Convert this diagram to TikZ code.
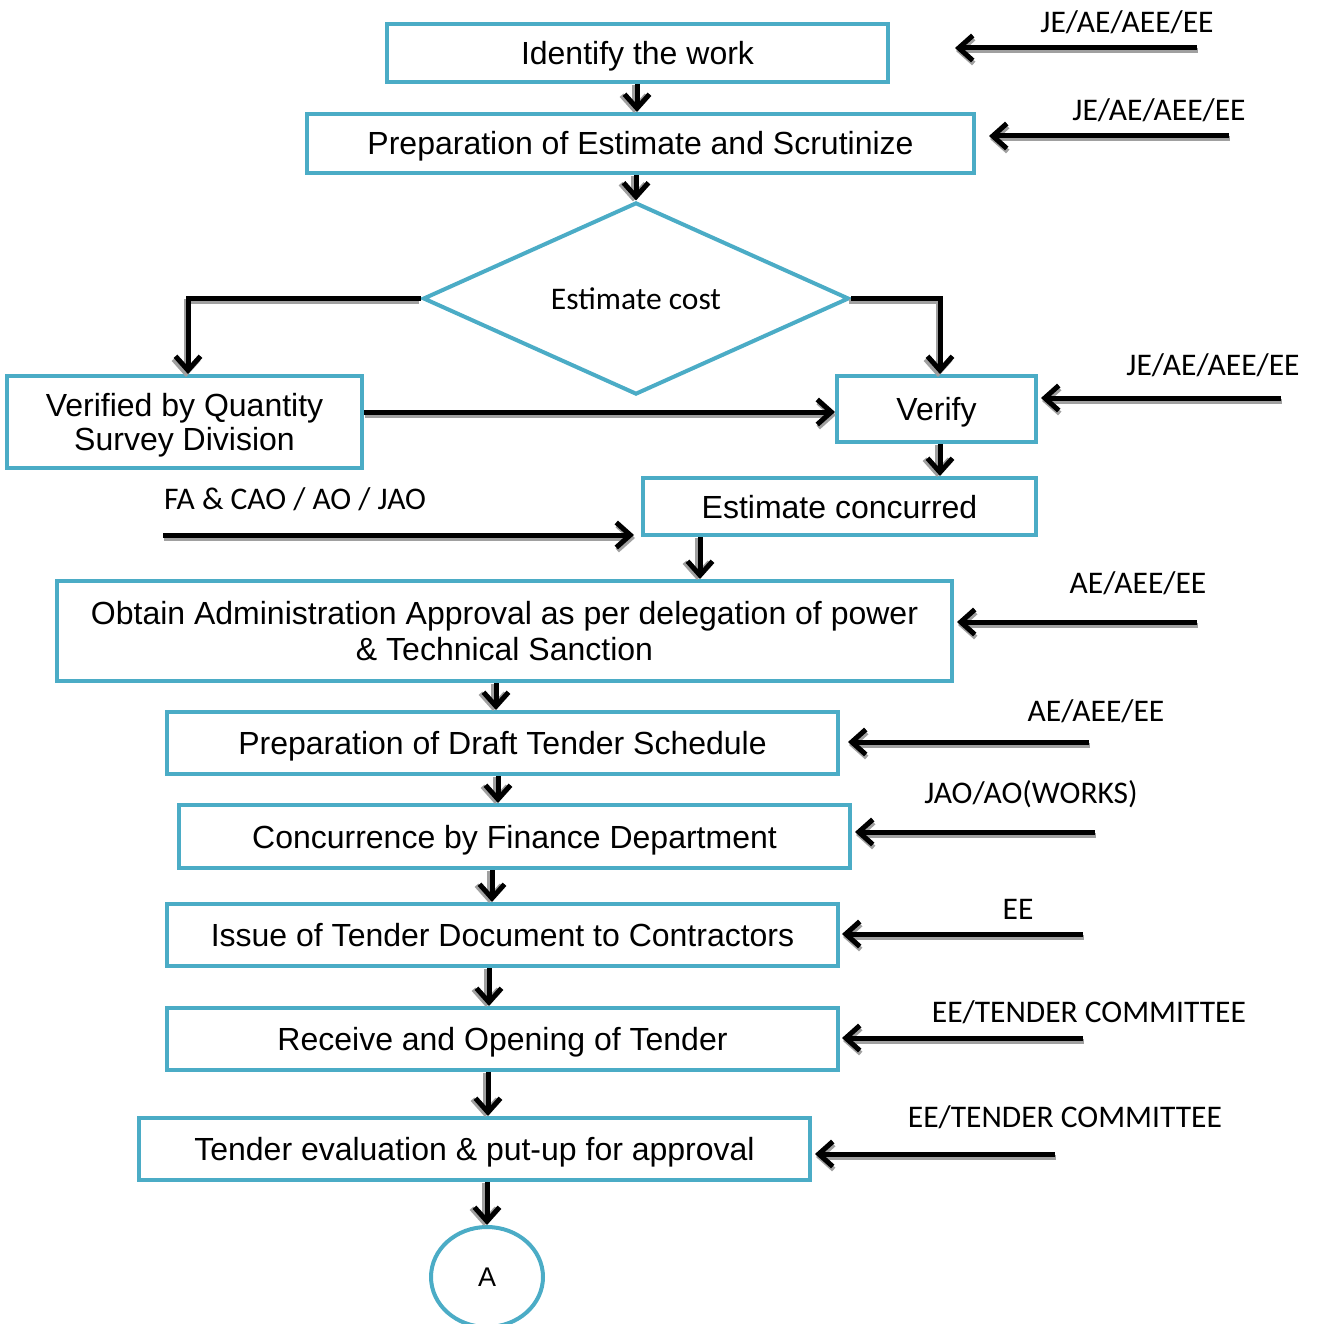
\documentclass[tikz,border=0pt]{standalone}
\usepackage{fontspec}
\setmainfont{Liberation Sans}
\newfontfamily\calib{Carlito}
\usetikzlibrary{arrows.meta,shapes.geometric}
\definecolor{bblue}{HTML}{4BACC6}
\definecolor{shad}{HTML}{A0A0A0}
\begin{document}
\begin{tikzpicture}[x=1pt,y=-1pt,
  box/.style={draw=bblue, line width=4pt, fill=white, align=center, inner sep=0pt,
    font=\fontsize{32}{36}\selectfont},
  one/.style={text height=25pt, text depth=2pt},
  lab/.style={font=\calib\fontsize{31.5}{36}\selectfont, inner sep=0pt, anchor=base},
  tip/.style={-{Straight Barb[length=14pt,width=25pt]}},
  arr/.style={line width=5pt, tip},
  harr/.style={arr, preaction={draw=shad, line width=5pt, tip, transform canvas={shift={(1pt,-3pt)}}}},
  varr/.style={arr, preaction={draw=shad, line width=5pt, tip, transform canvas={shift={(-3pt,-1pt)}}}},
  earr/.style={arr, preaction={draw=shad, line width=5pt, tip, transform canvas={shift={(-2pt,-3pt)}}}},
]
\useasboundingbox (0,0) rectangle (1319,1324);

% boxes
\node[box, one, minimum width=501pt, minimum height=58pt] (b1) at (637.5,53) {Identify the work};
\node[box, one, minimum width=667pt, minimum height=59pt] (b2) at (640.5,143.5) {Preparation of Estimate and Scrutinize};
\node[draw=bblue, line width=4pt, fill=white, diamond, inner sep=0pt, minimum width=426pt, minimum height=191pt,
      font=\calib\fontsize{31.5}{36}\selectfont] (dm) at (636,298.5) {Estimate cost};
\node[box, minimum width=355pt, minimum height=92pt] (vq) at (184.5,422)
  {\raisebox{-4pt}[\height][\depth]{\begin{tabular}{@{}c@{}}Verified by Quantity\\[-2pt]Survey Division\end{tabular}}};
\node[box, one, minimum width=199pt, minimum height=66pt] (vf) at (936.5,409) {Verify};
\node[box, one, minimum width=393pt, minimum height=57pt] (ec) at (839.5,506.5) {Estimate concurred};
\node[box, minimum width=895pt, minimum height=100pt] (oa) at (504.5,631) {Obtain Administration Approval as per delegation of power\\\& Technical Sanction};
\node[box, one, minimum width=671pt, minimum height=62pt] (dt) at (502.5,743) {Preparation of Draft Tender Schedule};
\node[box, one, minimum width=671pt, minimum height=63pt] (cf) at (514.5,836.5) {Concurrence by Finance Department};
\node[box, one, minimum width=671pt, minimum height=62pt] (it) at (502.5,935) {Issue of Tender Document to Contractors};
\node[box, one, minimum width=671pt, minimum height=62pt] (ro) at (502.5,1039) {Receive and Opening of Tender};
\node[box, one, minimum width=671pt, minimum height=62pt] (te) at (474.5,1149) {Tender evaluation \& put-up for approval};
\node[box, ellipse, minimum width=112pt, minimum height=100pt, font=\fontsize{27}{30}\selectfont] (A) at (487,1277) {A};

% main flow connectors
\draw[varr] ([xshift=-0.5pt]b1.south) -- ([xshift=-0.5pt]b1.south |- b2.north);
\draw[varr] (b2.south -| dm.north) -- (dm.north);
\draw[earr] (dm.west) -| ([xshift=3.5pt]vq.north);
\draw[earr] (dm.east) -| ([xshift=3.5pt]vf.north);
\draw[harr] ([yshift=-3pt]vf.west -| vq.east) -- ([yshift=-3pt]vf.west);
\draw[varr] ([xshift=3.5pt]vf.south) -- ([xshift=3.5pt]vf.south |- ec.north);
\draw[varr] ([xshift=59pt]ec.south west) -- ([xshift=59pt]ec.south west |- oa.north);
\draw[varr] ([xshift=-8.5pt]oa.south) -- ([xshift=-8.5pt]oa.south |- dt.north);
\draw[varr] ([xshift=-4.5pt]dt.south) -- ([xshift=-4.5pt]dt.south |- cf.north);
\draw[varr] ([xshift=-22.5pt]cf.south) -- ([xshift=-22.5pt]cf.south |- it.north);
\draw[varr] ([xshift=-13.5pt]it.south) -- ([xshift=-13.5pt]it.south |- ro.north);
\draw[varr] ([xshift=-14.5pt]ro.south) -- ([xshift=-14.5pt]ro.south |- te.north);
\draw[varr] (te.south -| A.north) -- (A.north);

% side role arrows
\coordinate (s1) at (1197,48);
\coordinate (t1) at (955,48);
\draw[harr] (s1) -- (t1);
\coordinate (s2) at (1229,136);
\draw[harr] (s2) -- ([xshift=13pt]s2 -| b2.east);
\coordinate (s3) at (1281,398);
\draw[harr] (s3) -- ([xshift=3pt]s3 -| vf.east);
\coordinate (s4) at (163,535);
\draw[harr] (s4) -- ([xshift=-7pt]s4 -| ec.west);
\coordinate (s5) at (1197,622);
\draw[harr] (s5) -- ([xshift=3pt]s5 -| oa.east);
\coordinate (s6) at (1089,742);
\draw[harr] (s6) -- ([xshift=8pt]s6 -| dt.east);
\coordinate (s7) at (1095,832);
\draw[harr] (s7) -- ([xshift=3pt]s7 -| cf.east);
\coordinate (s8) at (1083,934);
\draw[harr] (s8) -- ([xshift=2pt]s8 -| it.east);
\coordinate (s9) at (1083,1038);
\draw[harr] (s9) -- ([xshift=2pt]s9 -| ro.east);
\coordinate (s10) at (1055,1154);
\draw[harr] (s10) -- ([xshift=3pt]s10 -| te.east);

% role labels
\node[lab] (l1) at (1127,33) {JE/AE/AEE/EE};
\node[lab] (l2) at (1159,121) {JE/AE/AEE/EE};
\node[lab] (l3) at (1213,375) {JE/AE/AEE/EE};
\node[lab] (l4) at (295,509) {FA \& CAO / AO / JAO};
\node[lab] (l5) at (1138,593) {AE/AEE/EE};
\node[lab] (l6) at (1096,721) {AE/AEE/EE};
\node[lab] (l7) at (1031,803) {JAO/AO(WORKS)};
\node[lab] (l8) at (1018,919) {EE};
\node[lab] (l9) at (1089,1022) {EE/TENDER COMMITTEE};
\node[lab] (l10) at (1065,1127) {EE/TENDER COMMITTEE};
\end{tikzpicture}
\end{document}
